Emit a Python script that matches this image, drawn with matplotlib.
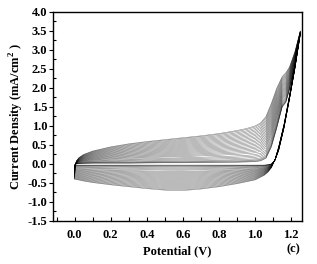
import matplotlib
matplotlib.use("Agg")
import matplotlib.pyplot as plt
import numpy as np

plt.rcParams['font.family'] = ['Liberation Serif', 'DejaVu Serif']
plt.rcParams['font.weight'] = 'bold'
plt.rcParams['mathtext.fontset'] = 'custom'
plt.rcParams['mathtext.bf'] = 'Liberation Serif:bold'

# potentials of the read points, anodic (forward) sweep
pot_fwd = [0.0, 0.003, 0.01, 0.025, 0.05, 0.1, 0.2, 0.3, 0.4, 0.5, 0.6, 0.7, 0.8,
           0.9, 0.95, 1.0, 1.03, 1.06, 1.09, 1.12, 1.15, 1.17, 1.19, 1.22, 1.25]
# outermost (last) cycle, forward
outer_fwd = [-0.40, -0.05, 0.08, 0.17, 0.25, 0.34, 0.45, 0.53, 0.59, 0.64, 0.69, 0.74, 0.80,
             0.88, 0.93, 1.00, 1.08, 1.25, 1.60, 2.00, 2.30, 2.40, 2.55, 2.95, 3.50]
# innermost (first) cycle, forward
inner_fwd = [-0.03, -0.01, 0.00, 0.01, 0.015, 0.02, 0.02, 0.02, 0.025, 0.03, 0.03, 0.035, 0.04,
             0.045, 0.05, 0.06, 0.08, 0.15, 0.45, 0.95, 1.50, 1.62, 1.95, 2.60, 3.40]

# cathodic (backward) sweep
pot_bwd = [1.25, 1.22, 1.19, 1.16, 1.13, 1.11, 1.09, 1.07, 1.05, 1.0, 0.9, 0.8, 0.7,
           0.6, 0.5, 0.4, 0.3, 0.2, 0.1, 0.05, 0.02, 0.0]
outer_bwd = [3.50, 2.60, 1.80, 1.05, 0.45, 0.12, -0.10, -0.22, -0.30, -0.42, -0.52, -0.60, -0.66,
             -0.70, -0.69, -0.65, -0.60, -0.55, -0.49, -0.45, -0.42, -0.40]
inner_bwd = [3.40, 2.50, 1.70, 0.95, 0.35, 0.10, 0.00, -0.02, -0.03, -0.03, -0.03, -0.03, -0.03,
             -0.03, -0.03, -0.03, -0.03, -0.03, -0.03, -0.03, -0.03, -0.03]

# relative size of each cycle (0 = innermost, 1 = outermost)
cycle_level = [0.0, 0.01, 0.03, 0.05, 0.08, 0.12, 0.16, 0.2, 0.25, 0.29, 0.33, 0.37, 0.41,
               0.45, 0.49, 0.53, 0.57, 0.61, 0.65, 0.69, 0.73, 0.77, 0.81, 0.85, 0.89,
               0.93, 0.97, 1.0]

fig = plt.figure(figsize=(3.17, 2.64), dpi=100)
ax = fig.add_axes([0.167, 0.163, 0.786, 0.792])

of, inf_ = np.array(outer_fwd), np.array(inner_fwd)
ob, inb = np.array(outer_bwd), np.array(inner_bwd)
for w in cycle_level:
    fwd = inf_ + w * (of - inf_)
    bwd = inb + w * (ob - inb)
    ax.plot(pot_fwd + pot_bwd, list(fwd) + list(bwd), color='k', lw=0.35, alpha=0.55)

ax.set_xlim(-0.12, 1.26)
ax.set_ylim(-1.5, 4.0)
ax.set_xticks(np.arange(0, 1.21, 0.2))
ax.set_xticks(np.arange(-0.1, 1.26, 0.1), minor=True)
ax.set_yticks(np.arange(-1.5, 4.01, 0.5))
ax.set_yticks(np.arange(-1.5, 4.01, 0.25), minor=True)
ax.xaxis.set_major_formatter(matplotlib.ticker.FormatStrFormatter('%.1f'))
ax.yaxis.set_major_formatter(matplotlib.ticker.FormatStrFormatter('%.1f'))
ax.tick_params(axis='x', which='both', direction='in', length=3, width=0.8, labelsize=9, pad=6)
ax.tick_params(axis='y', which='major', direction='out', length=3, width=0.8, labelsize=9, pad=1)
ax.tick_params(axis='y', which='minor', direction='in', length=2, width=0.8)
for lbl in ax.get_xticklabels() + ax.get_yticklabels():
    lbl.set_fontweight('bold')
for s in ax.spines.values():
    s.set_linewidth(1.0)

ax.set_xlabel('Potential (V)', fontsize=9, fontweight='bold', labelpad=3)
ax.set_ylabel(r'Current Density (mA/cm$^{\mathbf{2}}$ )', fontsize=9, fontweight='bold', labelpad=1)
fig.text(0.925, 0.045, '(c)', fontsize=9, fontweight='bold', ha='center')

fig.savefig('out.png', dpi=100)
